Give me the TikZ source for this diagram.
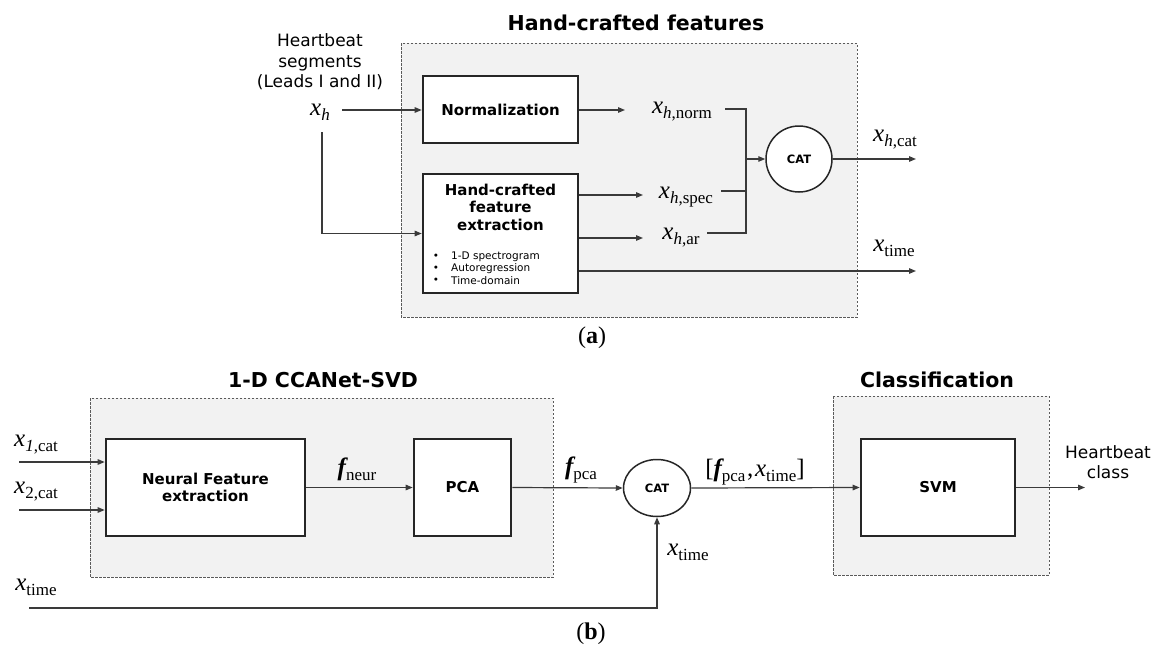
\documentclass[tikz,border=0pt]{standalone}
\usepackage{fontspec}
\setmainfont{DejaVu Sans}
\newfontfamily\tm{Liberation Serif}
\usetikzlibrary{arrows.meta,shapes.geometric,calc}
\definecolor{boxline}{HTML}{262626}
\definecolor{grpfill}{HTML}{F2F2F2}
\definecolor{grpline}{HTML}{5A5A5A}
\definecolor{arrcol}{HTML}{3A3A3A}
\newcommand\vx[2]{{\tm\fontsize{25}{25}\selectfont #1}{\tm\fontsize{17}{17}\selectfont\raisebox{-5pt}{#2}}}
\newcommand\bigtm[1]{{\tm\fontsize{25}{25}\selectfont #1}}
\tikzset{
  group/.style={draw=grpline, fill=grpfill, dash pattern=on 2.5pt off 1.5pt, line width=0.8pt},
  blk/.style={draw=boxline, fill=white, line width=2.6pt, font=\fontsize{15}{17.5}\selectfont\bfseries, align=center, inner sep=0pt},
  catnode/.style={circle, draw=boxline, line width=1.5pt, fill=white, minimum size=66pt, inner sep=0pt, font=\fontsize{11.5}{11.5}\selectfont\bfseries},
  arr/.style={draw=arrcol, line width=1.2pt, -{Triangle[length=7pt,width=5.5pt]}},
  ln/.style={draw=arrcol, line width=1.2pt},
  head/.style={font=\fontsize{20.5}{24}\selectfont\bfseries, inner sep=0pt},
  plain/.style={font=\fontsize{17}{20.5}\selectfont, align=center, inner sep=0pt},
  lbl/.style={inner sep=0pt},
  small/.style={font=\fontsize{10.5}{12}\selectfont, inner sep=0pt},
  figcap/.style={font=\tm\fontsize{24}{26}\selectfont, inner sep=0pt}
}
\begin{document}
\begin{tikzpicture}[x=1pt,y=-1pt]
\useasboundingbox (0,0) rectangle (1158,648);
% ---------- (a) ----------
\node[head] (tA) at (636,23) {Hand-crafted features};
\draw[group] (401,43) rectangle (857,317);
\node[plain] (hbseg) at (320,62) {Heartbeat\\segments\\(Leads I and II)};
\node[lbl] (xh) at (320,112) {\vx{\itshape x}{\itshape h}};
\node[blk, minimum width=155pt, minimum height=67pt] (norm) at (500.5,109.5) {Normalization};
\node[blk, minimum width=155pt, minimum height=119pt] (hc) at (500.5,233.5) {};
\node[font=\fontsize{15}{17.5}\selectfont\bfseries, align=center, inner sep=0pt] (hct) at (500.5,207) {Hand-crafted\\feature\\extraction};
\node[small] (b1) at (436,257) {•};
\node[small] (b2) at (436,269) {•};
\node[small] (b3) at (436,281) {•};
\node[small, anchor=west] (t1) at (451,257) {1-D spectrogram};
\node[small, anchor=west] (t2) at (451,269) {Autoregression};
\node[small, anchor=west] (t3) at (451,281) {Time-domain};
\node[catnode] (catA) at (799,159) {CAT};
\node[lbl] (xnorm) at (682,112) {\vx{\itshape x}{\itshape h\upshape,norm}};
\node[lbl] (xspec) at (686,197) {\vx{\itshape x}{\itshape h\upshape,spec}};
\node[lbl] (xar) at (681,238) {\vx{\itshape x}{\itshape h\upshape,ar}};
\node[lbl] (xcat) at (895,140) {\vx{\itshape x}{\itshape h\upshape,cat}};
\node[lbl] (xtimeA) at (894,248) {\vx{\itshape x}{time}};
\coordinate (xhs) at (342,110);
\coordinate (xhd) at (322,132);
\coordinate (normend) at (625,110);
\coordinate (specend) at (643,195);
\coordinate (arend) at (643,238);
\coordinate (jn) at (746,109);
\coordinate (js) at (746,191);
\coordinate (ja) at (746,233);
\coordinate (jc) at (746,159);
\coordinate (catout) at (916,159);
\coordinate (timeout) at (916,271);
\draw[arr] (xhs) -- (xhs -| norm.west);
\draw[arr] (xhd) |- (hc.west);
\draw[arr] (norm.east |- normend) -- (normend);
\draw[arr] (hc.east |- specend) -- (specend);
\draw[arr] (hc.east |- arend) -- (arend);
\draw[ln] (725,109) -- (jn) -- (ja) -- (707,233);
\draw[ln] (721,191) -- (js);
\draw[arr] (jc) -- (catA.west);
\draw[arr] (catA.east) -- (catout);
\draw[arr] (hc.east |- timeout) -- (timeout);
\node[figcap] (capA) at (592,338) {(\textbf{a})};
% ---------- (b) ----------
\node[head] (tB) at (323,380) {1-D CCANet-SVD};
\node[head] (tC) at (937,380) {Classification};
\draw[group] (90,398) rectangle (553,577);
\draw[group] (833,396) rectangle (1049,575);
\node[blk, minimum width=199pt, minimum height=97pt] (neur) at (205.5,487.5) {Neural Feature\\extraction};
\node[blk, minimum width=97pt, minimum height=97pt] (pca) at (462.5,487.5) {PCA};
\node[blk, minimum width=154pt, minimum height=97pt] (svm) at (938,487.5) {SVM};
\node[catnode, ellipse, minimum width=67pt, minimum height=57pt] (catB) at (657,488) {CAT};
\node[lbl] (x1) at (36,445) {\vx{\itshape x}{\itshape 1\upshape,cat}};
\node[lbl] (x2) at (36,492) {\vx{\itshape x}{2,cat}};
\node[lbl] (xtB) at (36,587) {\vx{\itshape x}{time}};
\node[lbl] (fneur) at (357,469) {\vx{\bfseries\itshape f}{neur}};
\node[lbl] (fpca) at (581,470) {\vx{\bfseries\itshape f}{pca}};
\node[lbl] (fx) at (755,472) {\bigtm{[}\vx{\bfseries\itshape f}{pca}\,\bigtm{,}\,\vx{\itshape x}{time}\bigtm{]}};
\node[lbl] (xtC) at (688,552) {\vx{\itshape x}{time}};
\node[plain] (hcls) at (1108,462) {Heartbeat\\class};
\coordinate (in1) at (19,462);
\coordinate (in2) at (19,510);
\coordinate (tin) at (29,608);
\coordinate (tcorner) at (657,608);
\coordinate (clsout) at (1085,487.5);
\draw[arr] (in1) -- (in1 -| neur.west);
\draw[arr] (in2) -- (in2 -| neur.west);
\draw[arr] (neur.east) -- (pca.west);
\draw[arr] (pca.east) -- (catB.west);
\draw[arr] (catB.east) -- (svm.west);
\draw[arr] (tin) -- (tcorner) -- (catB.south);
\draw[arr] (svm.east) -- (clsout);
\node[figcap] (capB) at (591,634) {(\textbf{b})};
\end{tikzpicture}
\end{document}
